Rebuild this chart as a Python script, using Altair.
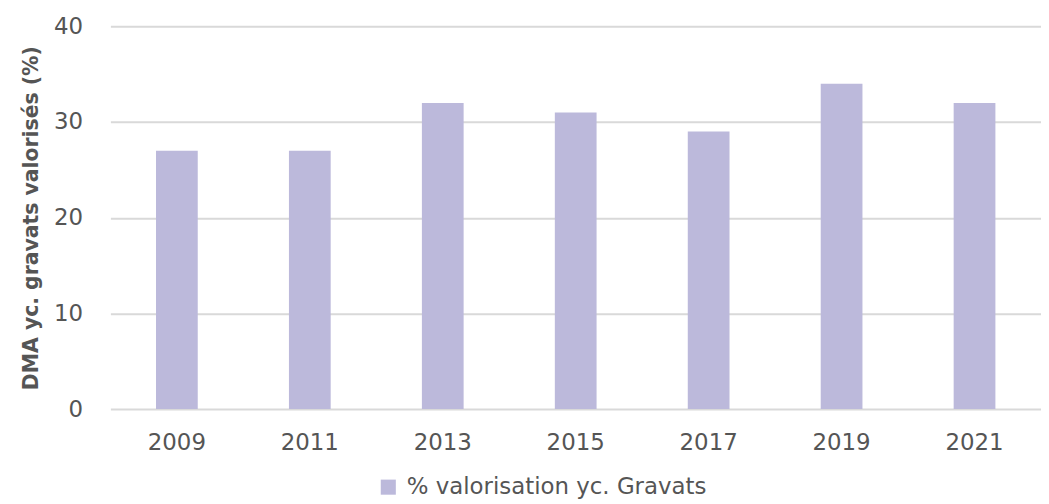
import altair as alt
import pandas as pd

years = ["2009", "2011", "2013", "2015", "2017", "2019", "2021"]
values = [27, 27, 32, 31, 29, 34, 32]
series = "% valorisation yc. Gravats"

df = pd.DataFrame({"year": years, "value": values, "series": [series] * len(years)})

FONT = "DejaVu Sans"
TXT = "#555555"

chart = alt.Chart(df).mark_bar(color="#BCB9DB").encode(
    x=alt.X("year:N", sort=years, title=None,
            scale=alt.Scale(paddingInner=0.686, paddingOuter=0.343),
            axis=alt.Axis(labelAngle=0, domain=False, ticks=False, labelPadding=23,
                          labelFontSize=23, labelColor=TXT, labelFont=FONT)),
    y=alt.Y("value:Q", title="DMA yc. gravats valorisés (%)",
            scale=alt.Scale(domain=[0, 40]),
            axis=alt.Axis(values=[0, 10, 20, 30, 40], domain=False, ticks=False,
                          labelPadding=28, labelFontSize=23, labelColor=TXT, labelFont=FONT,
                          gridColor="#d9d9d9", gridWidth=2,
                          titleFontSize=20.5, titleFontWeight="bold", titleColor=TXT,
                          titleFont=FONT, titlePadding=12)),
    fill=alt.Fill("series:N", scale=alt.Scale(range=["#BCB9DB"]),
                  legend=alt.Legend(title=None, orient="none", legendX=268, legendY=452,
                                    symbolType="square", symbolSize=230, symbolStrokeWidth=0,
                                    labelFontSize=23, labelColor=TXT, labelFont=FONT,
                                    labelOffset=7, labelLimit=0)),
).properties(
    width=936, height=385,
    autosize=alt.AutoSizeParams(type="none"),
    padding={"left": 103, "top": 17, "right": 0, "bottom": 92},
).configure_view(stroke=None)

chart.save("out.html", embed_options={"renderer": "svg", "actions": False})
